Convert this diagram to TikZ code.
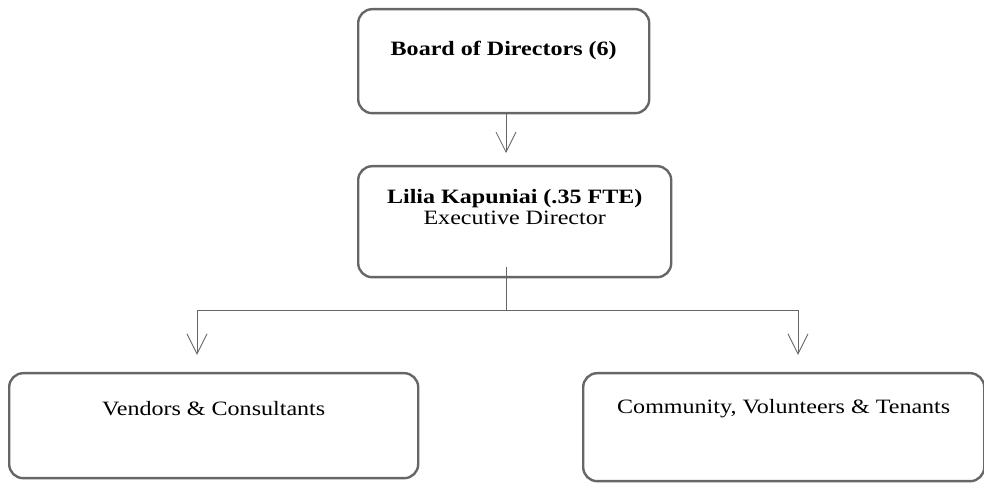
\documentclass[tikz,border=0pt]{standalone}
\usepackage{fontspec}
\setmainfont[FakeStretch=1.18]{Liberation Serif}
\usepackage{tikz}
\usetikzlibrary{arrows.meta}
\newcommand{\who}[1]{\textbf{#1}}

\tikzset{
  orgbox/.style={draw=black!60, line width=1.7pt, rounded corners=0.35cm,
    anchor=north west, inner sep=0pt, align=center,
    font=\fontsize{14.5}{15.6}\selectfont},
  feed/.style={draw=black!60, line width=0.6pt},
  drop/.style={feed, -{Straight Barb[length=0.5cm,width=0.5cm]}}
}

\begin{document}
\begin{tikzpicture}
\useasboundingbox (0,0) rectangle (24.6,12.075);
% nodes
\node[orgbox, minimum width=7.275cm, text height=1.17cm, text depth=1.43cm]
  (board) at (8.925,11.875) {\who{Board of Directors (6)}};
\node[orgbox, minimum width=7.825cm, text height=1.47cm, text depth=1.305cm]
  (lilia) at (8.925,7.95) {\who{Lilia Kapuniai (.35 FTE)}\\ Executive Director};
\node[orgbox, minimum width=10.225cm, text height=1.05cm, text depth=1.575cm]
  (vendors) at (0.2,2.775) {Vendors \& Consultants};
\node[orgbox, minimum width=10.025cm, text height=1.0cm, text depth=1.7cm]
  (community) at (14.55,2.775) {Community, Volunteers \& Tenants};

\coordinate (split) at (12.65,4.325);
\coordinate (leftdrop) at (4.925,4.325);
\coordinate (rightdrop) at (19.95,4.325);

% connectors
\draw[drop, shorten >=0.3cm] (board.south -| split) -- (lilia.north -| split);
\draw[feed] ([yshift=0.28cm]lilia.south -| split) -- (split);
\draw[drop, shorten >=0.43cm] (split) -- (leftdrop) -- (vendors.north -| leftdrop);
\draw[drop, shorten >=0.43cm] (split) -- (rightdrop) -- (community.north -| rightdrop);
\end{tikzpicture}
\end{document}
